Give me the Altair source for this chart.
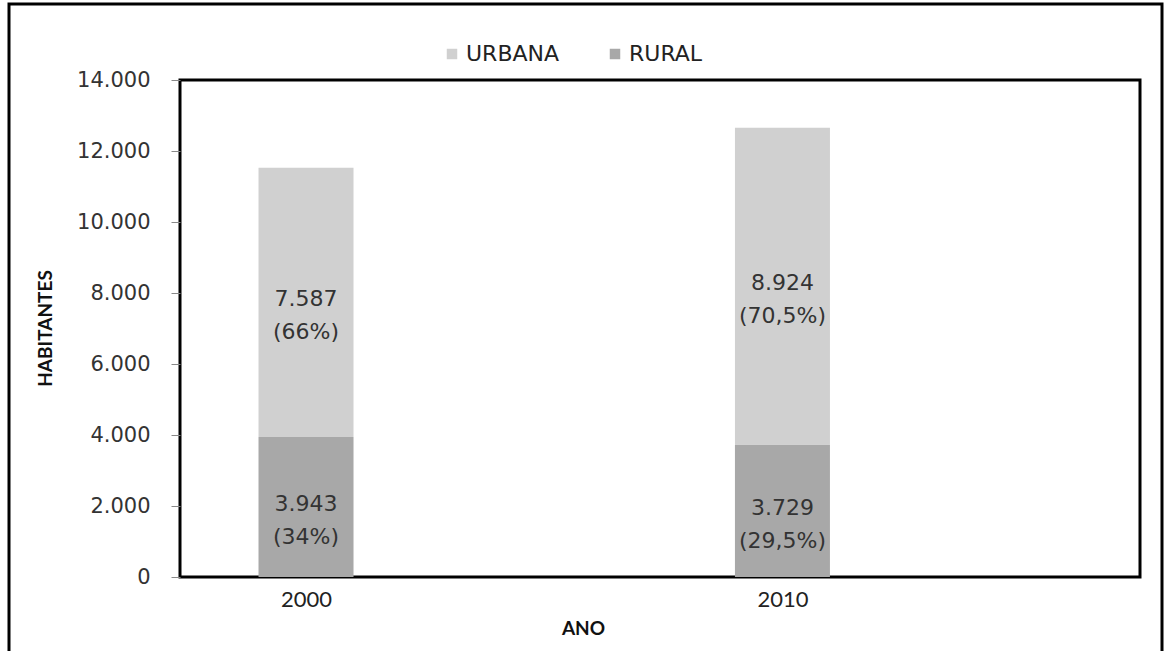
import altair as alt
import pandas as pd

anos = [2000, 2000, 2010, 2010]
zonas = ["RURAL", "URBANA", "RURAL", "URBANA"]
habitantes = [3943, 7587, 3729, 8924]
percentuais = ["34%", "66%", "29,5%", "70,5%"]
ordem = [0, 1, 0, 1]

df = pd.DataFrame({
    "ano": anos,
    "zona": zonas,
    "habitantes": habitantes,
    "pct": percentuais,
    "ordem": ordem,
})
df["rotulo"] = [f"{v:,}".replace(",", ".") + "\n(" + p + ")" for v, p in zip(habitantes, percentuais)]

FONT = "DejaVu Sans"

xscale = alt.Scale(domain=[1997.46, 2017.40], nice=False, zero=False)
yscale = alt.Scale(domain=[0, 14000], nice=False)

base = alt.Chart(df)

bars = base.mark_bar(size=95).encode(
    x=alt.X("ano:Q", scale=xscale,
            axis=alt.Axis(values=[2000, 2010], format="d", ticks=False, grid=False, domain=False,
                          labelFontSize=22, labelFont="Lato", labelColor="#222", labelPadding=12,
                          title="ANO", titleFont="Lato", titleFontSize=19, titleFontWeight="bold",
                          titleColor="#111", titleX=403, titleY=51, titleBaseline="middle",
                          titleAlign="center")),
    y=alt.Y("habitantes:Q", stack="zero", scale=yscale,
            axis=alt.Axis(values=list(range(0, 14001, 2000)), grid=False, domain=False,
                          tickSize=9, tickColor="#888", tickWidth=1,
                          labelExpr="replace(format(datum.value, ',d'), ',', '.')",
                          labelFont=FONT, labelFontSize=21, labelColor="#333", labelPadding=21,
                          title="HABITANTES", titleFont="Lato", titleFontSize=19,
                          titleFontWeight="bold", titleColor="#111", titleAngle=-90,
                          titleX=-135, titleY=248, titleAlign="center", titleBaseline="middle")),
    color=alt.Color("zona:N",
                    scale=alt.Scale(domain=["URBANA", "RURAL"], range=["#d0d0d0", "#a8a8a8"]),
                    legend=alt.Legend(orient="none", legendX=261, legendY=-37, direction="horizontal",
                                      title=None, symbolType="square", symbolSize=110,
                                      symbolStrokeWidth=0, labelFont=FONT, labelFontSize=22,
                                      labelColor="#222", columnPadding=44, labelOffset=3)),
    order=alt.Order("ordem:Q"),
)

texts = base.transform_stack(
    stack="habitantes", groupby=["ano"], sort=[alt.SortField("ordem")], as_=["y0", "y1"]
).transform_calculate(
    mid="(datum.y0 + datum.y1) / 2"
).mark_text(
    font=FONT, fontSize=22, color="#333", lineBreak="\n", lineHeight=33,
    baseline="middle", align="center", dy=-3
).encode(
    x=alt.X("ano:Q", scale=xscale),
    y=alt.Y("mid:Q", scale=yscale),
    text="rotulo:N",
)

frame = alt.Chart(pd.DataFrame({"k": [0]})).mark_rect(
    fill=None, fillOpacity=0, stroke="black", strokeWidth=3, clip=False
).encode(
    x=alt.value(-171), x2=alt.value(982), y=alt.value(-76), y2=alt.value(700)
)

chart = alt.layer(bars, texts, frame).properties(
    width=960, height=497,
    autosize=alt.AutoSizeParams(type="none"),
    padding={"left": 180, "top": 80, "right": 25, "bottom": 74},
    background="white",
).configure_view(stroke="black", strokeWidth=3)

chart.save("out.html", embed_options={"renderer": "svg", "actions": False})
